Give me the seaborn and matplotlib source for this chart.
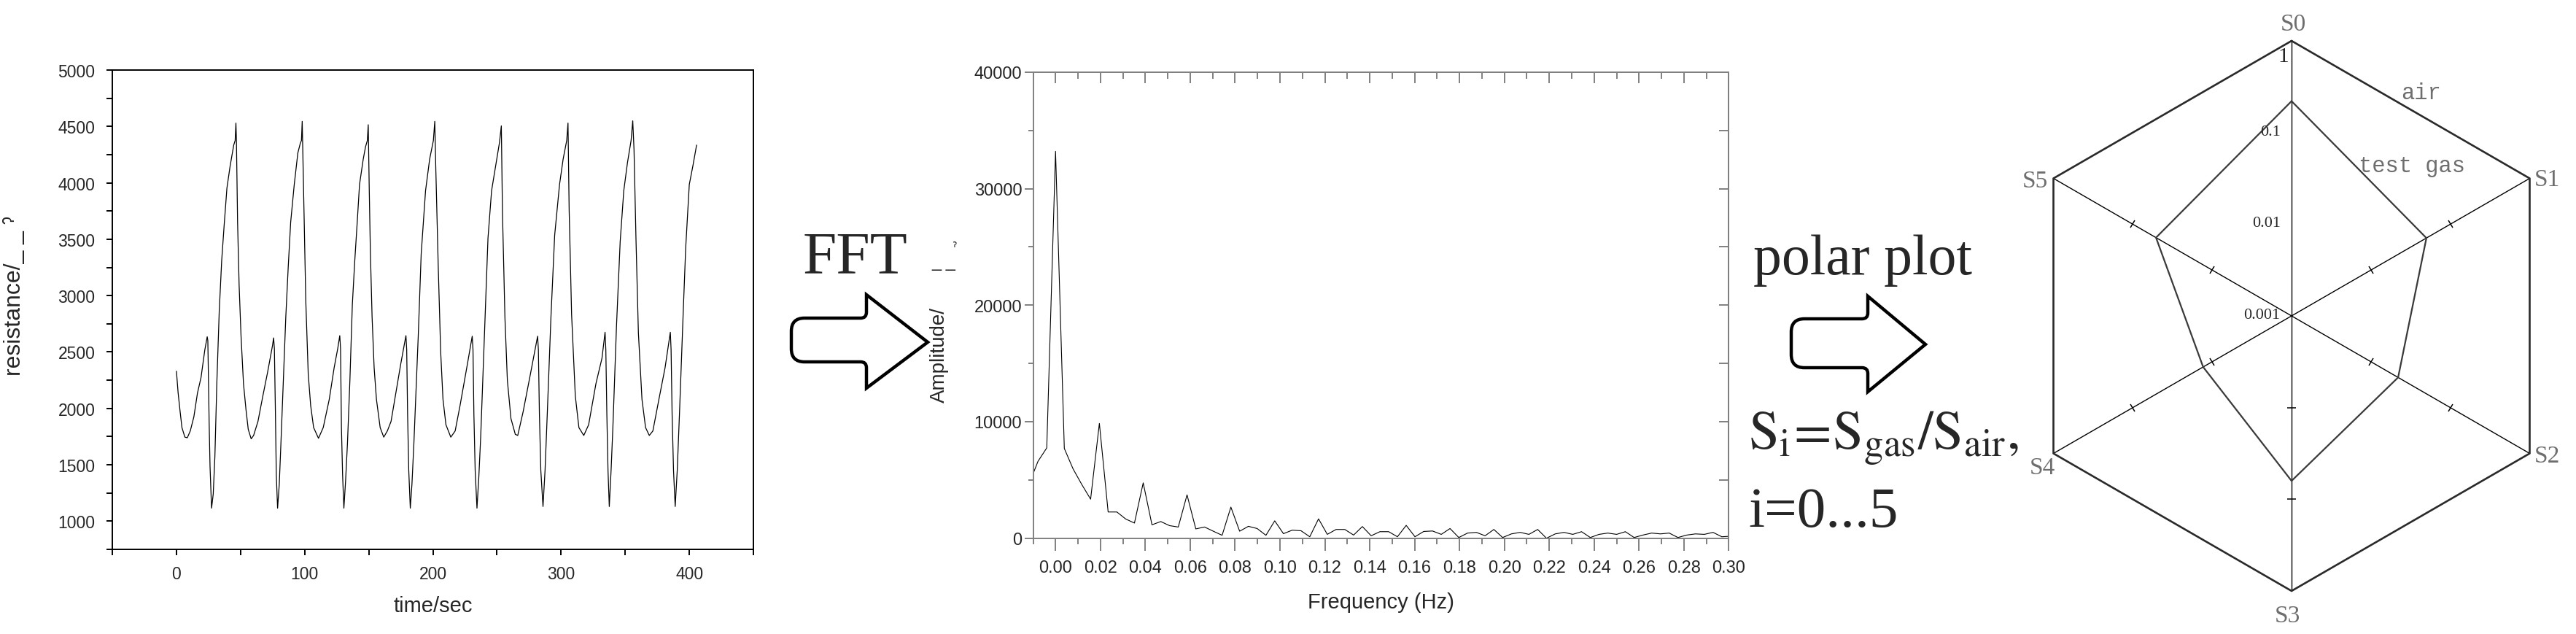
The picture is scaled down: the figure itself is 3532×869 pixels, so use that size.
import numpy as np
import pandas as pd
import matplotlib
matplotlib.use("Agg")
import matplotlib.pyplot as plt
import seaborn as sns
from matplotlib.path import Path
from matplotlib.patches import PathPatch
from matplotlib.markers import MarkerStyle
from matplotlib.transforms import Affine2D
from matplotlib.ticker import MultipleLocator, FixedLocator, FormatStrFormatter

W, H, DPI = 3532, 870, 100

# sensor resistance signal
TIME_S = [
    0.0, 1.3, 2.8, 4.3, 6.6, 8.5, 10.8, 13.6, 16.4, 19.2, 22.1, 24.0, 24.5,
    25.5, 26.2, 27.4, 28.7, 30.0, 31.5, 33.4, 35.3, 37.2, 39.4, 41.9, 44.7,
    45.8, 46.4, 46.8, 47.7, 48.9, 50.4, 52.3, 54.2, 56.0, 58.3, 60.2, 63.6,
    67.4, 71.1, 74.9, 75.8, 76.4, 77.2, 77.9, 78.9, 80.2, 81.5, 83.4, 85.3,
    87.2, 89.1, 91.9, 94.7, 96.6, 97.5, 98.1, 98.7, 99.4, 100.9, 102.8, 104.7,
    107.0, 110.8, 114.5, 119.2, 123.0, 125.8, 127.4, 128.0, 128.7, 129.6,
    130.6, 131.9, 133.4, 135.3, 137.2, 139.1, 141.0, 142.8, 145.7, 147.5,
    148.9, 149.6, 150.4, 151.3, 152.6, 154.2, 156.0, 158.9, 161.7, 164.5,
    167.4, 171.1, 174.9, 179.0, 179.6, 180.3, 181.2, 182.4, 183.7, 185.2,
    188.6, 190.9, 194.3, 197.5, 200.4, 201.5, 202.3, 204.2, 206.1, 207.9,
    210.2, 214.0, 217.4, 221.2, 226.9, 230.7, 231.3, 232.0, 233.0, 234.4,
    235.8, 237.3, 240.1, 243.0, 245.8, 248.6, 252.0, 253.4, 254.3, 256.2,
    258.1, 260.9, 264.3, 266.2, 270.4, 276.1, 281.7, 282.3, 283.1, 284.2,
    285.9, 287.5, 289.3, 292.1, 295.0, 298.8, 301.6, 304.4, 305.4, 306.3,
    308.2, 311.1, 313.9, 317.7, 321.5, 327.2, 331.9, 334.3, 334.9, 335.7,
    336.6, 337.6, 339.0, 340.4, 343.2, 346.1, 348.9, 351.8, 354.6, 355.9,
    356.9, 358.4, 360.3, 363.1, 365.9, 368.8, 371.6, 376.3, 381.1, 385.2,
    385.8, 386.6, 387.7, 389.0, 390.6, 392.4, 395.3, 397.2, 400.0, 402.8,
    405.7,
]
RESISTANCE = [
    2330, 2140, 1980, 1830, 1745, 1740, 1800, 1925, 2135, 2275, 2515, 2635, 2600,
    1885, 1490, 1115, 1240, 1575, 2220, 2865, 3310, 3620, 3955, 4150, 4335,
    4375, 4530, 4375, 3650, 3090, 2640, 2220, 1995, 1815, 1730, 1760, 1885,
    2110, 2320, 2555, 2625, 2530, 1970, 1410, 1115, 1325, 1690, 2250, 2810,
    3255, 3650, 3985, 4265, 4350, 4375, 4545, 4210, 3790, 2950, 2305, 2025,
    1830, 1735, 1830, 2080, 2360, 2530, 2645, 2530, 1830, 1410,
    1115, 1350, 1690, 2250, 2920, 3310, 3650, 3985, 4210, 4320,
    4375, 4515, 3930, 3370, 2810, 2360, 2080, 1830, 1745, 1800,
    1885, 2135, 2390, 2645, 2520, 1950, 1450, 1115, 1330, 1690,
    2640, 3370, 3930, 4210, 4375, 4545, 4125, 3255, 2500, 2080,
    1855, 1745, 1800, 2025, 2390, 2640, 2520, 1950, 1450, 1115,
    1380, 1745, 2610, 3510, 3930, 4125, 4360, 4505, 3730, 2810,
    2250, 1910, 1770, 1760, 1970, 2305, 2640, 2520, 1950, 1450,
    1130, 1450, 1970, 2810, 3535, 3985, 4210, 4375, 4530, 3760,
    2835, 2110, 1830, 1760, 1855, 2220, 2445, 2675, 2520, 1950,
    1450, 1130, 1450, 1830, 2725, 3480, 3930, 4180, 4375, 4550,
    4290, 3510, 2670, 2080, 1830, 1760, 1800, 2080, 2360, 2675,
    2520, 1950, 1450, 1130, 1450, 1970, 2865, 3425, 3985, 4150,
    4335,
]

# FFT spectrum (middle panel)
FREQ_HZ = [
    -0.01172, -0.00781, -0.00391, 0.0, 0.00391, 0.00781, 0.01172, 0.01563,
    0.01953, 0.02344, 0.02734, 0.03125, 0.03516, 0.03906, 0.04297, 0.04688,
    0.05078, 0.05469, 0.05859, 0.0625, 0.06641, 0.07031, 0.07422, 0.07813,
    0.08203, 0.08594, 0.08984, 0.09375, 0.09766, 0.10156, 0.10547, 0.10938,
    0.11328, 0.11719, 0.12109, 0.125, 0.12891, 0.13281, 0.13672, 0.14063,
    0.14453, 0.14844, 0.15234, 0.15625, 0.16016, 0.16406, 0.16797, 0.17188,
    0.17578, 0.17969, 0.18359, 0.1875, 0.19141, 0.19531, 0.19922, 0.20313,
    0.20703, 0.21094, 0.21484, 0.21875, 0.22266, 0.22656, 0.23047, 0.23438,
    0.23828, 0.24219, 0.24609, 0.25, 0.25391, 0.25781, 0.26172, 0.26563,
    0.26953, 0.27344, 0.27734, 0.28125, 0.28516, 0.28906, 0.29297, 0.29688,
    0.30078,
]
AMPLITUDE = [
    4700, 6600, 7750,
    33200, 7700, 5950, 4600, 3350, 9850, 2250, 2250, 1650, 1300,
    4750, 1150, 1430, 1080, 960, 3720, 800, 960, 600, 250,
    2670, 600, 1020, 830, 250, 1490, 390, 690, 640, 125,
    1660, 330, 750, 750, 270, 1000, 210, 560, 560, 125,
    1100, 125, 580, 620, 330, 830, 60, 440, 500, 210,
    750, 60, 370, 500, 330, 750, 0, 370, 500, 330,
    560, 60, 330, 440, 330, 560, 60, 270, 440, 370,
    440, 60, 270, 370, 330, 500, 125, 170,
]

# polar plot (right panel): S_i = S_gas / S_air
SENSORS = ["S0", "S1", "S2", "S3", "S4", "S5"]
AIR_RATIO = [1, 1, 1, 1, 1, 1]
TEST_GAS_RATIO = [0.22, 0.05, 0.022, 0.063, 0.013, 0.051]
R_TICKS = [0.001, 0.01, 0.1, 1]
R_TICK_LABELS = ["0.001", "0.01", "0.1", "1"]

sns.set_style("ticks")
plt.rcParams["font.family"] = ["Liberation Sans", "DejaVu Sans"]
plt.rcParams["mathtext.fontset"] = "stix"
SERIF = ["Liberation Serif", "DejaVu Serif"]
GRAY = "#808080"
LABEL_GRAY = "#6e6e6e"

fig = plt.figure(figsize=(W / DPI, H / DPI), dpi=DPI)


def box(left, top, right, bottom):
    # pixel box -> figure fraction
    return [left / W, 1 - bottom / H, (right - left) / W, (bottom - top) / H]


def px(x, y):
    return x / W, 1 - y / H


# ---- left: resistance vs time
ax1 = fig.add_axes(box(154, 97, 1033, 754))
res = pd.DataFrame({"t": TIME_S, "r": RESISTANCE})
sns.lineplot(data=res, x="t", y="r", ax=ax1, color="black", linewidth=0.9,
             estimator=None, sort=False)
ax1.set_xlim(-50, 450)
ax1.set_ylim(750, 5000)
ax1.xaxis.set_major_locator(MultipleLocator(100))
ax1.xaxis.set_minor_locator(MultipleLocator(50))
ax1.yaxis.set_major_locator(MultipleLocator(500))
ax1.yaxis.set_minor_locator(MultipleLocator(250))
ax1.tick_params(which="both", direction="out", length=6, width=1.4,
                color="black", top=False, right=False, bottom=True, left=True)
ax1.tick_params(axis="both", labelsize=16.5)
ax1.tick_params(axis="x", pad=10)
ax1.tick_params(axis="y", pad=11)
for sp in ax1.spines.values():
    sp.set_visible(True)
    sp.set_color("black")
    sp.set_linewidth(1.4)
ax1.set_xlabel("time/sec", fontsize=21, labelpad=13)
ax1.set_ylabel("resistance/_ _ \u02c0", fontsize=23, labelpad=0)
ax1.yaxis.set_label_coords(-0.135, 0.53)

# ---- middle: FFT spectrum
ax2 = fig.add_axes(box(1416.5, 99.8, 2370.4, 738.7))
fft = pd.DataFrame({"f": FREQ_HZ, "a": AMPLITUDE})
sns.lineplot(data=fft, x="f", y="a", ax=ax2, color="black", linewidth=0.8,
             estimator=None, sort=False)
ax2.set_xlim(-0.01, 0.30)
ax2.set_ylim(0, 40000)
xmaj = np.round(np.arange(0, 0.301, 0.02), 2)
xmin = np.round(np.arange(-0.01, 0.301, 0.01), 2)
ax2.xaxis.set_major_locator(FixedLocator(xmaj))
ax2.xaxis.set_minor_locator(FixedLocator(xmin))
ax2.xaxis.set_major_formatter(FormatStrFormatter("%.2f"))
ax2.yaxis.set_major_locator(MultipleLocator(10000))
ax2.yaxis.set_minor_locator(MultipleLocator(5000))
ax2.yaxis.set_major_formatter(FormatStrFormatter("%d"))
for sp in ax2.spines.values():
    sp.set_visible(True)
    sp.set_color(GRAY)
    sp.set_linewidth(1.4)
ax2.tick_params(which="both", color=GRAY, width=1.4, direction="out",
                top=False, right=False, bottom=True, left=True, labelsize=17)
ax2.tick_params(axis="x", which="major", length=12, pad=9)
ax2.tick_params(axis="x", which="minor", length=6)
ax2.tick_params(axis="y", which="major", length=9, pad=2)
ax2.tick_params(axis="y", which="minor", length=5)

top = ax2.secondary_xaxis("top")
top.xaxis.set_major_locator(FixedLocator(xmaj))
top.xaxis.set_minor_locator(FixedLocator(xmin))
top.tick_params(which="both", direction="in", color=GRAY, width=1.4,
                labeltop=False)
top.tick_params(which="major", length=11)
top.tick_params(which="minor", length=6.5)
top.spines["top"].set_color(GRAY)
top.spines["top"].set_linewidth(1.4)

right = ax2.secondary_yaxis("right")
right.yaxis.set_major_locator(MultipleLocator(10000))
right.yaxis.set_minor_locator(MultipleLocator(5000))
right.tick_params(which="both", direction="in", color=GRAY, width=1.4,
                  length=9.5, labelright=False)
right.spines["right"].set_color(GRAY)
right.spines["right"].set_linewidth(1.4)

ax2.set_xlabel("Frequency (Hz)", fontsize=21, labelpad=16)
ax2.set_ylabel("")
ax2.text(-0.1347, 0.394, "Amplitude/", transform=ax2.transAxes, rotation=90,
         ha="center", va="center", fontsize=20)

# ---- right: polar plot with log radius
cx, cy, R = 3142, 434, 377
ax3 = fig.add_axes(box(cx - R, cy - R, cx + R, cy + R), projection="polar")
ax3.set_theta_zero_location("N")
ax3.set_theta_direction(-1)
ax3.set_rscale("log")
ax3.set_rlim(R_TICKS[0], R_TICKS[-1])
ax3.grid(False)
ax3.set_xticks([])
ax3.set_yticks([])
ax3.spines["polar"].set_visible(False)
ax3.patch.set_alpha(0)

ang = np.linspace(0, 2 * np.pi, len(SENSORS), endpoint=False)
closed = np.append(ang, ang[0])
for a in ang:
    ax3.plot([a, a], [R_TICKS[0], R_TICKS[-1]], color="black", lw=1.0,
             clip_on=False)
ax3.plot(closed, AIR_RATIO + AIR_RATIO[:1], color="#2a2a2a", lw=1.9,
         clip_on=False)
ax3.plot(closed, TEST_GAS_RATIO + TEST_GAS_RATIO[:1], color="#3a3a3a",
         lw=1.6, clip_on=False)

for a in ang[1:]:
    screen = 90 - np.degrees(a)
    mk = MarkerStyle("_", transform=Affine2D().rotate_deg(screen + 90))
    ax3.plot([a, a], R_TICKS[1:3], ls="none", marker=mk, ms=8, mew=1.1,
             color="black", clip_on=False)

for r, lab in zip(R_TICKS, R_TICK_LABELS):
    big = lab == "1"
    ax3.annotate(lab, xy=(0, r), xytext=(-3 if big else -11, -15 if big else 1),
                 textcoords="offset points", ha="right", va="center",
                 fontsize=21 if big else 16, family=SERIF)

label_offsets = [(2, 17), (17, -1), (17, -2), (-4, -24), (-11, -14), (-18, -2)]
for a, name, off in zip(ang, SENSORS, label_offsets):
    ax3.annotate(name, xy=(a, 1), xytext=off, textcoords="offset points",
                 ha="center", va="center", fontsize=24, family=SERIF,
                 color=LABEL_GRAY, annotation_clip=False)

ax3.annotate("air", xy=(np.radians(30), 1), xytext=(-8, -15),
             textcoords="offset points", ha="center", va="center",
             fontsize=22, family=["Liberation Mono", "DejaVu Sans Mono"],
             color=LABEL_GRAY, annotation_clip=False)
ax3.annotate("test gas", xy=(np.radians(30), 1), xytext=(-17, -87),
             textcoords="offset points", ha="center", va="center",
             fontsize=22, family=["Liberation Mono", "DejaVu Sans Mono"],
             color=LABEL_GRAY, annotation_clip=False)


# ---- block arrows and captions between the panels
def block_arrow(xl, yt, yb, xh, ht, hb, xt, yc, rr=18, rs=8):
    pts = [
        (xl + rr, yt), (xh - rs, yt), (xh, yt), (xh, yt - rs), (xh, ht),
        (xt, yc), (xh, hb), (xh, yb + rs), (xh, yb), (xh - rs, yb),
        (xl + rr, yb), (xl, yb), (xl, yb - rr), (xl, yt + rr), (xl, yt),
        (xl + rr, yt), (xl + rr, yt),
    ]
    codes = [
        Path.MOVETO, Path.LINETO, Path.CURVE3, Path.CURVE3, Path.LINETO,
        Path.LINETO, Path.LINETO, Path.LINETO, Path.CURVE3, Path.CURVE3,
        Path.LINETO, Path.CURVE3, Path.CURVE3, Path.LINETO, Path.CURVE3,
        Path.CURVE3, Path.CLOSEPOLY,
    ]
    verts = [px(x, y) for x, y in pts]
    patch = PathPatch(Path(verts, codes), transform=fig.transFigure,
                      facecolor="white", edgecolor="black", lw=3.2,
                      joinstyle="miter")
    fig.add_artist(patch)


block_arrow(1085, 437, 497, 1188, 405, 533, 1272, 470)
block_arrow(2456, 438, 505, 2561, 407, 538, 2640, 473)

fig.text(*px(1101, 374), "FFT", fontsize=60, family=SERIF, ha="left",
         va="baseline")
fig.text(*px(1277, 366), "_ _", fontsize=17, ha="left", va="baseline")
fig.text(*px(1308, 340), "\u02c0", fontsize=13, ha="center", va="center",
         family=["DejaVu Sans"])
fig.text(*px(2404, 376), "polar plot", fontsize=56, family=SERIF, ha="left",
         va="baseline")
fig.text(*px(2397, 616), r"$\mathrm{S_i\!=\!S_{gas}/S_{air},}$", fontsize=54,
         ha="left", va="baseline")
fig.text(*px(2397, 722), "i=0...5", fontsize=57, family=SERIF, ha="left",
         va="baseline")

fig.savefig("out.png", dpi=DPI, facecolor="white")
